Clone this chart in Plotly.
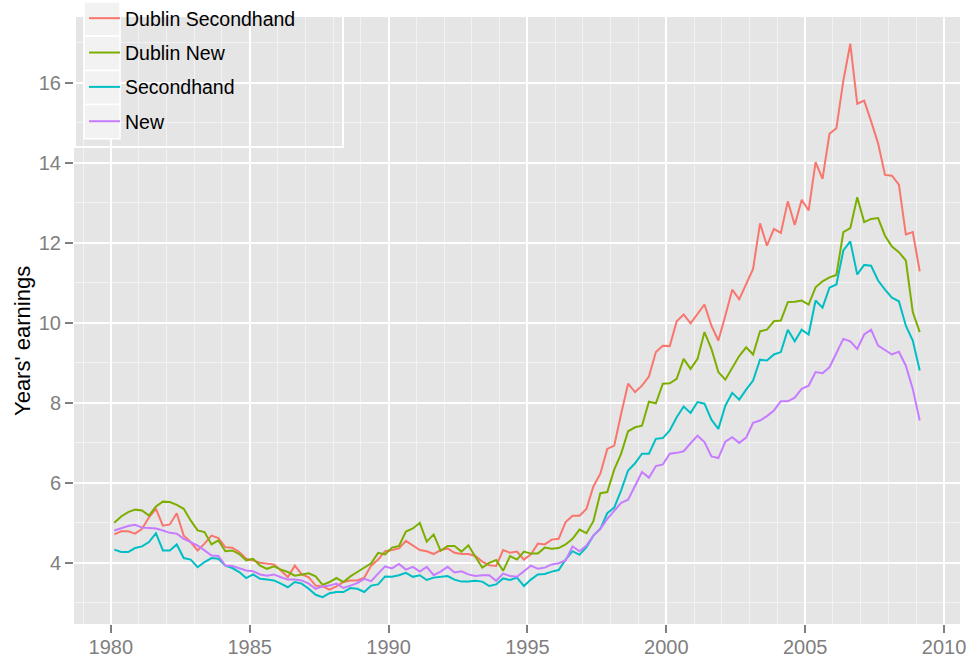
import pandas as pd
import plotly.graph_objects as go

# ---- data ----
quarters = pd.period_range("1980Q1", "2009Q1", freq="Q")
years = [q.year + (q.quarter - 0.5) / 4 for q in quarters]

series_names = ["Dublin Secondhand", "Dublin New", "Secondhand", "New"]
series_colors = ["#F8766D", "#7CAE00", "#00BFC4", "#C77CFF"]

dublin_secondhand = [
    4.71, 4.79, 4.79, 4.73, 4.85, 5.14, 5.35, 4.93, 4.96, 5.24, 4.68, 4.52, 4.31, 4.48, 4.68, 4.62, 4.39, 4.38, 4.27, 4.10,
    4.06, 4.00, 3.98, 3.96, 3.81, 3.64, 3.93, 3.71, 3.64, 3.43, 3.41, 3.33, 3.41, 3.52, 3.56, 3.56, 3.63, 3.93, 4.08, 4.29,
    4.32, 4.36, 4.55, 4.44, 4.32, 4.29, 4.22, 4.32, 4.36, 4.25, 4.22, 4.22, 4.17, 4.03, 3.94, 3.92, 4.32, 4.25, 4.28, 4.08,
    4.21, 4.48, 4.46, 4.58, 4.60, 5.02, 5.18, 5.18, 5.35, 5.91, 6.23, 6.85, 6.93, 7.73, 8.48, 8.27, 8.43, 8.66, 9.27, 9.43,
    9.42, 10.04, 10.21, 9.99, 10.23, 10.46, 9.93, 9.56, 10.18, 10.83, 10.59, 10.98, 11.35, 12.49, 11.93, 12.35, 12.25, 13.04, 12.45, 13.08,
    12.81, 14.02, 13.60, 14.73, 14.87, 16.06, 16.98, 15.48, 15.56, 15.04, 14.49, 13.70, 13.68, 13.46, 12.21, 12.27, 11.29,
]
dublin_new = [
    5.00, 5.16, 5.27, 5.33, 5.31, 5.18, 5.41, 5.53, 5.52, 5.45, 5.35, 5.06, 4.81, 4.77, 4.46, 4.56, 4.29, 4.31, 4.22, 4.06,
    4.10, 3.93, 3.85, 3.91, 3.83, 3.77, 3.68, 3.71, 3.74, 3.66, 3.45, 3.52, 3.62, 3.52, 3.66, 3.77, 3.89, 3.99, 4.25, 4.21,
    4.38, 4.42, 4.78, 4.86, 5.00, 4.53, 4.71, 4.30, 4.42, 4.42, 4.28, 4.44, 4.15, 3.88, 4.00, 4.07, 3.80, 4.17, 4.08, 4.28,
    4.23, 4.23, 4.38, 4.35, 4.37, 4.46, 4.60, 4.83, 4.74, 5.04, 5.74, 5.77, 6.33, 6.73, 7.29, 7.39, 7.43, 8.03, 7.99, 8.48,
    8.49, 8.60, 9.10, 8.85, 9.10, 9.77, 9.35, 8.77, 8.58, 8.89, 9.17, 9.39, 9.21, 9.79, 9.83, 10.04, 10.06, 10.52, 10.53, 10.56,
    10.46, 10.89, 11.04, 11.14, 11.20, 12.27, 12.37, 13.14, 12.52, 12.60, 12.62, 12.18, 11.91, 11.77, 11.56, 10.27, 9.77,
]
secondhand = [
    4.33, 4.27, 4.27, 4.37, 4.41, 4.52, 4.74, 4.31, 4.31, 4.46, 4.12, 4.08, 3.89, 4.02, 4.12, 4.10, 3.93, 3.87, 3.77, 3.62,
    3.71, 3.60, 3.58, 3.56, 3.48, 3.39, 3.52, 3.48, 3.35, 3.20, 3.14, 3.24, 3.27, 3.27, 3.37, 3.35, 3.27, 3.43, 3.46, 3.66,
    3.65, 3.69, 3.75, 3.65, 3.69, 3.57, 3.63, 3.65, 3.67, 3.58, 3.53, 3.53, 3.55, 3.53, 3.42, 3.46, 3.61, 3.57, 3.63, 3.42,
    3.58, 3.71, 3.72, 3.78, 3.82, 4.08, 4.29, 4.20, 4.39, 4.68, 4.85, 5.24, 5.38, 5.81, 6.31, 6.49, 6.73, 6.73, 7.10, 7.12,
    7.31, 7.64, 7.91, 7.75, 8.02, 7.98, 7.58, 7.35, 7.93, 8.25, 8.08, 8.33, 8.56, 9.08, 9.06, 9.21, 9.27, 9.83, 9.54, 9.83,
    9.71, 10.56, 10.38, 10.88, 10.96, 11.81, 12.04, 11.21, 11.45, 11.43, 11.06, 10.83, 10.63, 10.54, 9.93, 9.56, 8.81,
]
new = [
    4.81, 4.87, 4.92, 4.95, 4.88, 4.87, 4.86, 4.81, 4.75, 4.73, 4.60, 4.52, 4.43, 4.31, 4.18, 4.17, 3.93, 3.92, 3.87, 3.81,
    3.79, 3.71, 3.68, 3.71, 3.64, 3.58, 3.58, 3.56, 3.48, 3.35, 3.41, 3.43, 3.48, 3.37, 3.43, 3.49, 3.60, 3.54, 3.73, 3.91,
    3.86, 3.97, 3.83, 3.90, 3.78, 3.90, 3.69, 3.78, 3.90, 3.76, 3.79, 3.71, 3.67, 3.69, 3.69, 3.55, 3.73, 3.67, 3.65, 3.80,
    3.93, 3.85, 3.88, 3.96, 3.99, 4.06, 4.41, 4.29, 4.43, 4.68, 4.85, 5.10, 5.31, 5.50, 5.58, 5.91, 6.27, 6.13, 6.42, 6.46,
    6.73, 6.75, 6.79, 6.99, 7.18, 7.02, 6.66, 6.62, 7.03, 7.14, 7.00, 7.13, 7.50, 7.56, 7.67, 7.81, 8.04, 8.04, 8.13, 8.35,
    8.43, 8.77, 8.74, 8.89, 9.24, 9.60, 9.54, 9.35, 9.71, 9.83, 9.43, 9.31, 9.21, 9.28, 8.93, 8.35, 7.56,
]

x_ticks = [1980, 1985, 1990, 1995, 2000, 2005, 2010]
y_ticks = [4, 6, 8, 10, 12, 14, 16]
y_title = "Years' earnings"

all_series = [dublin_secondhand, dublin_new, secondhand, new]
for s in all_series:
    assert len(s) == len(years), (len(s), len(years))

# ---- figure ----
W, H = 967, 659
ML, MR, MT, MB = 74, 7, 17, 35
PW, PH = W - ML - MR, H - MT - MB

def px_x(p):
    return (p - ML) / PW

def px_y(p):
    return (H - MB - p) / PH

FONT = "Liberation Sans, Arial, Helvetica, sans-serif"

fig = go.Figure()
for name, color, vals in zip(series_names, series_colors, all_series):
    fig.add_trace(go.Scatter(
        x=years, y=vals, mode="lines", name=name, legendgroup=name,
        line=dict(color=color, width=2), hoverinfo="skip",
    ))

# legend key backgrounds (ggplot style grey95 keys with white border)
shapes = []
shapes.append(dict(type="rect", xref="paper", yref="paper",
                   x0=px_x(75), x1=px_x(343), y0=px_y(147), y1=px_y(-6),
                   line=dict(color="white", width=2), fillcolor="rgba(0,0,0,0)",
                   layer="above"))
key_h = 34.2
for k in range(4):
    top = 2 + key_h * k
    shapes.append(dict(type="rect", xref="paper", yref="paper",
                       x0=px_x(84), x1=px_x(120), y0=px_y(top + key_h), y1=px_y(top),
                       line=dict(color="white", width=1.5), fillcolor="#F2F2F2",
                       layer="above"))

axis_common = dict(
    showline=False, zeroline=False,
    gridcolor="white", gridwidth=2,
    ticks="outside", ticklen=8, tickwidth=1.5, tickcolor="#7F7F7F",
    tickfont=dict(family=FONT, size=20, color="#7F7F7F"),
)

fig.update_layout(
    width=W, height=H,
    margin=dict(l=ML, r=MR, t=MT, b=MB, autoexpand=False),
    paper_bgcolor="white", plot_bgcolor="#E5E5E5",
    font=dict(family=FONT, color="black"),
    showlegend=True, hovermode=False,
    legend=dict(
        x=px_x(84), y=px_y(-1), xanchor="left", yanchor="top",
        bgcolor="rgba(0,0,0,0)", borderwidth=0,
        font=dict(family=FONT, size=19.5, color="black"),
        tracegroupgap=6, itemwidth=31, traceorder="grouped",
    ),
    xaxis=dict(
        range=[1978.675, 2010.575], tickvals=x_ticks, ticktext=[str(v) for v in x_ticks],
        minor=dict(dtick=1, tick0=1980, showgrid=True, gridcolor="#F2F2F2", gridwidth=1, ticks=""),
        ticklabelstandoff=-3,
        **axis_common,
    ),
    yaxis=dict(
        range=[2.47, 17.65], tickvals=y_ticks, ticktext=[str(v) for v in y_ticks],
        minor=dict(dtick=1, tick0=3, showgrid=True, gridcolor="#F2F2F2", gridwidth=1, ticks=""),
        **axis_common,
    ),
    annotations=[dict(
        text=y_title, xref="paper", yref="paper", x=px_x(22), y=px_y(341),
        xanchor="center", yanchor="middle", textangle=-90, showarrow=False,
        font=dict(family=FONT, size=22, color="black"),
    )],
    shapes=shapes,
)

fig.write_html("out.html", config={"displayModeBar": False},
               post_script="document.body.style.margin='0';")
